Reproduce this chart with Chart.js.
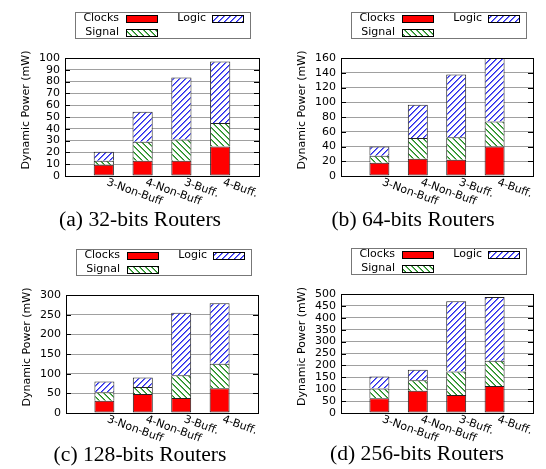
<!DOCTYPE html>
<html>
<head>
<meta charset="utf-8">
<script src="https://cdn.jsdelivr.net/npm/chart.js@4/dist/chart.umd.min.js"></script>
<style>
  body { margin: 0; background: #fff; }
  #fig { position: relative; width: 546px; height: 469px; }
  .panel { position: absolute; }
  .panel canvas { position: absolute; left: 0; top: 0; }
  .cap {
    position: absolute;
    font: 20px "Liberation Serif", "Times New Roman", serif;
    line-height: 20px;
    white-space: nowrap;
    transform: translateX(-50%) scaleX(1.08);
    color: #000;
  }
</style>
</head>
<body>
<div id="fig"></div>
<script>
// categories (x axis)
const categories = ['3-Non-Buff', '4-Non-Buff', '3-Buff.', '4-Buff.'];

// dynamic power (mW)
const clocks32 = [9.5, 13, 13, 25];
const signal32 = [3.5, 16, 18, 20];
const logic32 = [7.5, 25.5, 52.5, 52];

const clocks64 = [18, 23.5, 22, 40];
const signal64 = [9.5, 28, 30.5, 34];
const logic64 = [12.5, 45, 85, 86];

const clocks128 = [31, 48, 38, 63];
const signal128 = [22, 18, 58, 62];
const logic128 = [27, 24, 159, 154];

const clocks256 = [62, 93, 76, 113];
const signal256 = [41, 45, 98, 107];
const logic256 = [50, 44, 296, 267];

// y axis ranges
const yMax = [100, 160, 300, 500];
const yStep = [10, 20, 50, 50];

const captions = ['(a) 32-bits Routers', '(b) 64-bits Routers', '(c) 128-bits Routers', '(d) 256-bits Routers'];
const seriesNames = ['Clocks', 'Signal', 'Logic'];

const FONT = '"DejaVu Sans", Verdana, sans-serif';
const RED = '#ff0000';
const GREEN = [30, 140, 30];
const BLUE = [40, 40, 235];

// panel geometry (page layout only)
const panels = [
    { x: 0,   y: 0,   h: 235, left: 65, right: 259, top: 58, bottom: 176, capX: 140, capBase: 226, legTop: 12 },
    { x: 273, y: 0,   h: 235, left: 68, right: 260, top: 58, bottom: 176, capX: 140, capBase: 226, legTop: 12 },
    { x: 0,   y: 235, h: 234, left: 66, right: 258, top: 60, bottom: 178, capX: 140, capBase: 226, legTop: 14 },
    { x: 273, y: 235, h: 234, left: 68, right: 260, top: 59, bottom: 178, capX: 144, capBase: 225, legTop: 13 }
];

const data = [
    [clocks32, signal32, logic32],
    [clocks64, signal64, logic64],
    [clocks128, signal128, logic128],
    [clocks256, signal256, logic256]
];

// pixel-exact hatch tile, made for a given context
function hatch(ctx, rgb, up) {
    const s = 6;
    const c = document.createElement('canvas');
    c.width = s; c.height = s;
    const g = c.getContext('2d');
    const img = g.createImageData(s, s);
    const put = (x, y, col) => {
        x = (x + s) % s; y = (y + s) % s;
        const i = (y * s + x) * 4;
        img.data[i] = col[0]; img.data[i + 1] = col[1]; img.data[i + 2] = col[2]; img.data[i + 3] = 255;
    };
    const soft = rgb.map(v => Math.round(v + (255 - v) * 0.35));
    for (let y = 0; y < s; y++) for (let x = 0; x < s; x++) put(x, y, [255, 255, 255]);
    for (let x = 0; x < s; x++) {
        const y = up ? s - 1 - x : x;
        put(x, y + 1, soft);
        put(x, y, rgb);
    }
    g.putImageData(img, 0, 0);
    return ctx.createPattern(c, 'repeat');
}

// frame, tick marks, slanted x labels, y title and the key
const decor = {
    id: 'decor',
    afterDraw(chart) {
        const ctx = chart.ctx;
        const a = chart.chartArea;
        const ys = chart.scales.y;
        const xs = chart.scales.x;
        const fills = chart.data.datasets.map(d => d.backgroundColor);
        ctx.save();

        // tick marks on both sides
        ctx.strokeStyle = '#000';
        ctx.lineWidth = 1;
        ctx.beginPath();
        ys.ticks.forEach(t => {
            const py = Math.round(ys.getPixelForValue(t.value)) + 0.5;
            ctx.moveTo(a.left, py); ctx.lineTo(a.left + 5, py);
            ctx.moveTo(a.right - 5, py); ctx.lineTo(a.right, py);
        });
        ctx.stroke();

        // frame
        ctx.strokeRect(Math.round(a.left) + 0.5, Math.round(a.top) + 0.5,
            Math.round(a.right - a.left), Math.round(a.bottom - a.top));

        // x labels
        ctx.fillStyle = '#000';
        ctx.font = '11px ' + FONT;
        ctx.textAlign = 'left';
        ctx.textBaseline = 'top';
        categories.forEach((c, i) => {
            const px = xs.getPixelForValue(i + 1);
            ctx.save();
            ctx.translate(px + 5, a.bottom + 1);
            ctx.rotate(20 * Math.PI / 180);
            ctx.fillText(c, 0, 0);
            ctx.restore();
        });

        // y title
        ctx.save();
        ctx.translate(a.left - 39, (a.top + a.bottom) / 2 - 7);
        ctx.rotate(-Math.PI / 2);
        ctx.textAlign = 'center';
        ctx.textBaseline = 'middle';
        ctx.fillText('Dynamic Power (mW)', 0, 0);
        ctx.restore();

        // key
        const L = Math.round(a.left) + 10;
        const T = chart.options.plugins.decor.legTop;
        ctx.strokeStyle = '#777';
        ctx.strokeRect(L + 0.5, T + 0.5, 175, 26);
        const items = [
            { name: seriesNames[0], fill: fills[0], tx: L + 44, sx: L + 51, cy: T + 6 },
            { name: seriesNames[2], fill: fills[2], tx: L + 131, sx: L + 137, cy: T + 6 },
            { name: seriesNames[1], fill: fills[1], tx: L + 44, sx: L + 51, cy: T + 20 }
        ];
        ctx.textAlign = 'right';
        ctx.textBaseline = 'middle';
        ctx.strokeStyle = '#000';
        items.forEach(it => {
            ctx.fillStyle = '#000';
            ctx.fillText(it.name, it.tx, it.cy);
            ctx.fillStyle = it.fill;
            ctx.fillRect(it.sx, it.cy - 3, 31, 7);
            ctx.strokeRect(it.sx + 0.5, it.cy - 3 + 0.5, 31, 7);
        });
        ctx.restore();
    }
};

const fig = document.getElementById('fig');

panels.forEach((p, k) => {
    const box = document.createElement('div');
    box.className = 'panel';
    box.style.left = p.x + 'px';
    box.style.top = p.y + 'px';
    box.style.width = '273px';
    box.style.height = p.h + 'px';
    const cv = document.createElement('canvas');
    cv.width = 273;
    cv.height = p.h;
    box.appendChild(cv);
    const cap = document.createElement('div');
    cap.className = 'cap';
    cap.textContent = captions[k];
    cap.style.left = p.capX + 'px';
    cap.style.top = (p.capBase - 17) + 'px';
    box.appendChild(cap);
    fig.appendChild(box);

    const ctx = cv.getContext('2d');
    const fills = [RED, hatch(ctx, GREEN, false), hatch(ctx, BLUE, true)];
    const series = data[k];
    new Chart(ctx, {
        type: 'bar',
        data: {
            labels: ['', ...categories, ''],
            datasets: series.map((vals, j) => ({
                label: seriesNames[j],
                data: [null, ...vals, null],
                backgroundColor: fills[j],
                borderColor: '#222',
                // upper segments share the line below with the segment under them
                borderWidth: j === 0 ? 1 : { top: 1, left: 1, right: 1, bottom: 0 },
                borderSkipped: false,
                categoryPercentage: 1,
                barPercentage: 0.52
            }))
        },
        options: {
            responsive: false,
            animation: false,
            devicePixelRatio: 1,
            layout: { padding: { left: 0, right: 273 - p.right, top: p.top, bottom: 0 } },
            plugins: {
                legend: { display: false },
                tooltip: { enabled: false },
                decor: { legTop: p.legTop }
            },
            scales: {
                x: {
                    stacked: true,
                    offset: false,
                    grid: { display: false },
                    border: { display: false },
                    ticks: { display: false },
                    afterFit: s => { s.height = p.h - p.bottom; }
                },
                y: {
                    stacked: true,
                    min: 0,
                    max: yMax[k],
                    grid: { color: '#a0a0a0', drawTicks: false },
                    border: { display: false },
                    ticks: {
                        stepSize: yStep[k],
                        autoSkip: false,
                        padding: 5,
                        color: '#000',
                        font: { family: FONT, size: 11 }
                    },
                    afterFit: s => { s.width = p.left; }
                }
            }
        },
        plugins: [decor]
    });
});
</script>
</body>
</html>
